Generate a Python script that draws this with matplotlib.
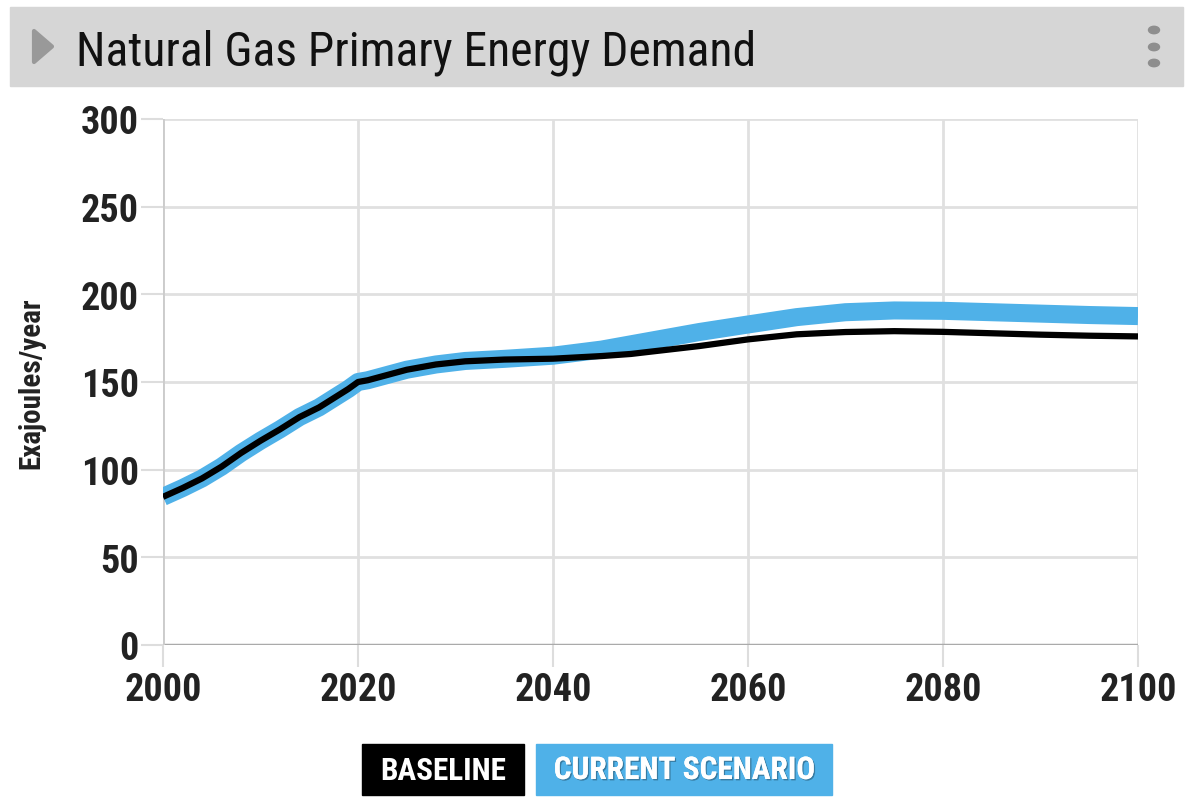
import matplotlib
matplotlib.use('Agg')
import matplotlib.pyplot as plt
import matplotlib.patheffects as pe
from matplotlib import font_manager
from matplotlib.patches import Rectangle, Polygon, Circle

# data (Exajoules/year)
years = [2000, 2002, 2004, 2006, 2008, 2010, 2012, 2014, 2016, 2018, 2019, 2020,
         2021, 2022, 2023, 2025, 2028, 2031, 2035, 2040, 2045, 2048, 2050, 2055,
         2060, 2065, 2070, 2075, 2080, 2085, 2090, 2095, 2100]
baseline = [84.5, 89.5, 95, 101.7, 109.5, 116.5, 123, 130, 135.5, 142.5, 146, 150,
            151, 152.5, 154, 157, 160, 161.8, 162.8, 163.3, 164.8, 166, 167.3, 170.5,
            174.3, 177.2, 178.5, 179, 178.6, 177.8, 177, 176.4, 176]
current = [84.5, 89.5, 95, 101.7, 109.5, 116.5, 123, 130, 135.5, 142.5, 146, 150,
           151, 152.5, 154, 157, 160, 162, 163.2, 165, 168.5, 171.5, 173.5, 178.5,
           182.8, 187, 189.8, 190.8, 190.6, 189.8, 189, 188.2, 187.6]
xticks = [2000, 2020, 2040, 2060, 2080, 2100]
yticks = [0, 50, 100, 150, 200, 250, 300]

BLUE = '#4fb1e8'

names = {f.name for f in font_manager.fontManager.ttflist}
if 'Roboto Condensed' in names:
    cond = 'Roboto Condensed'
elif 'Liberation Sans Narrow' in names:
    cond = 'Liberation Sans Narrow'
else:
    cond = 'Roboto'
plt.rcParams['font.family'] = [cond, 'DejaVu Sans']

fig = plt.figure(figsize=(11.92, 8.04), dpi=100)
W, H = 1192, 804

def fx(px):
    return px / W

def fy(py):
    return 1 - py / H

# header bar
fig.patches.append(Rectangle((fx(10), fy(87)), fx(1183) - fx(10), fy(8) - fy(87),
                             transform=fig.transFigure, color='#d6d6d6', zorder=0))
fig.patches.append(Polygon([(fx(34), fy(32)), (fx(34), fy(63)), (fx(52), fy(47.5))],
                           closed=True, transform=fig.transFigure, color='#999999',
                           joinstyle='round', linewidth=3, zorder=1))
for cy in [31, 48, 64]:
    fig.patches.append(Circle((fx(1154), fy(cy)), 5.5 / W, transform=fig.transFigure,
                              color='#8e8e8e', zorder=1))
fig.text(fx(76), fy(65), 'Natural Gas Primary Energy Demand', fontsize=34.3,
         color='#111111', va='baseline', ha='left')

ax = fig.add_axes([fx(163), fy(646), fx(1138) - fx(163), fy(120) - fy(646)])
ax.plot(years, current, color=BLUE, lw=13, solid_capstyle='butt',
        solid_joinstyle='round', zorder=3)
ax.plot(years, baseline, color='black', lw=4.5, solid_capstyle='butt',
        solid_joinstyle='round', zorder=4)

ax.set_xlim(2000, 2100)
ax.set_ylim(0, 300)
ax.set_xticks(xticks)
ax.set_yticks(yticks)
ax.grid(True, color='#e0e0e0', lw=2)
for s in ax.spines.values():
    s.set_visible(False)
ax.axhline(0, color='#aaaaaa', lw=2.5, zorder=2)
ax.axvline(2000, color='#cccccc', lw=2, zorder=2)
ax.tick_params(axis='both', length=16, width=1.5, color='#dddddd', labelsize=27.5)
ax.tick_params(axis='y', pad=1.5)
ax.tick_params(axis='x', pad=3)
for lab in ax.get_xticklabels() + ax.get_yticklabels():
    lab.set_fontweight('bold')
    lab.set_color('#222222')
ax.set_ylabel('Exajoules/year', fontsize=21, fontweight='bold', color='#222222')
ax.yaxis.set_label_coords((45 - 163) / (1138 - 163), 0.5)

# legend boxes
shadow = [pe.withSimplePatchShadow(offset=(1, -1), shadow_rgbFace='black', alpha=0.3),
          pe.Normal()]
fig.patches.append(Rectangle((fx(362), fy(796)), fx(524) - fx(362), fy(745) - fy(796),
                             transform=fig.transFigure, color='black', zorder=0))
fig.patches.append(Rectangle((fx(536), fy(796)), fx(832) - fx(536), fy(745) - fy(796),
                             transform=fig.transFigure, color=BLUE, zorder=0))
fig.text(fx(443), fy(771), 'BASELINE', fontsize=22.5, fontweight='bold', color='white',
         ha='center', va='center')
fig.text(fx(684), fy(771), 'CURRENT SCENARIO', fontsize=22.5, fontweight='bold',
         color='white', ha='center', va='center', path_effects=shadow)

fig.savefig('out.png', dpi=100)
